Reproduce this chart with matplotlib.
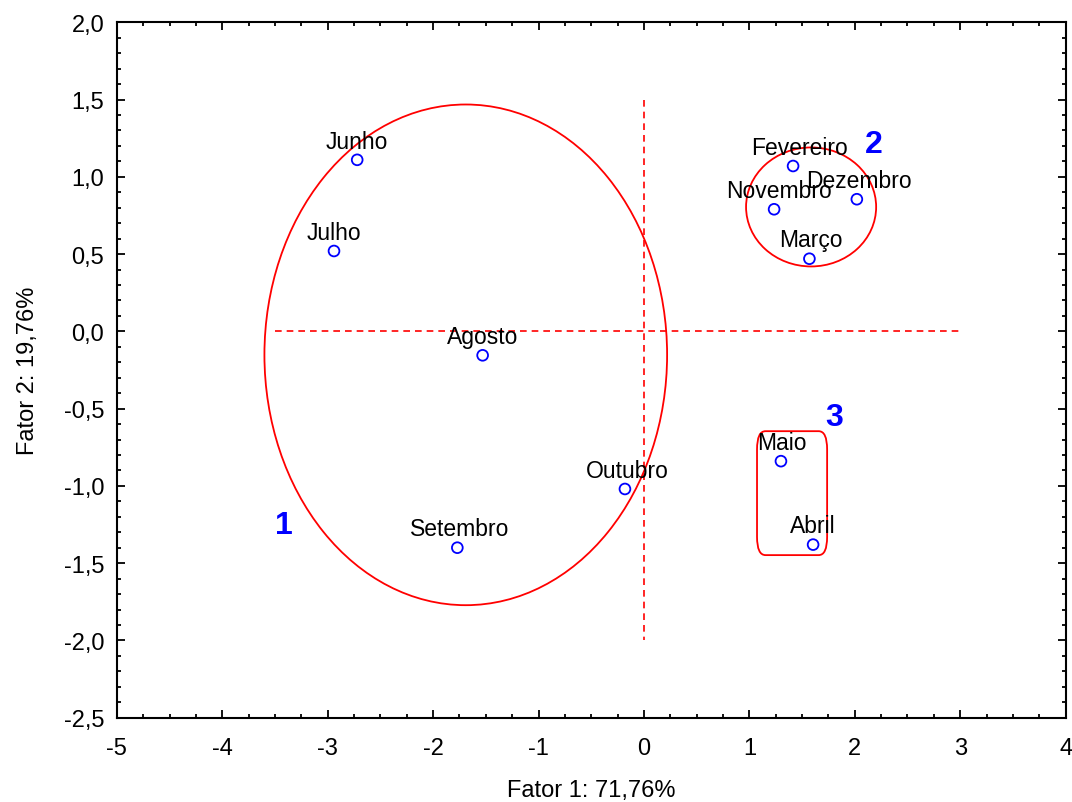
import numpy as np
import matplotlib.pyplot as plt
from matplotlib.patches import Ellipse, FancyBboxPatch
from matplotlib.ticker import MultipleLocator, FuncFormatter

plt.rcParams['font.family'] = ['Liberation Sans', 'DejaVu Sans']
plt.rcParams['axes.unicode_minus'] = False

meses = ['Junho', 'Julho', 'Agosto', 'Setembro', 'Outubro', 'Fevereiro',
         'Dezembro', 'Novembro', 'Março', 'Maio', 'Abril']
fator1 = [-2.72, -2.94, -1.53, -1.77, -0.18, 1.415, 2.02, 1.235, 1.57, 1.30, 1.605]
fator2 = [1.11, 0.52, -0.155, -1.40, -1.02, 1.07, 0.855, 0.79, 0.47, -0.84, -1.38]
label_dx = [0, 0, 0, 2, 2, 6, 2, 5, 1, 1, 0]

grupos = ['1', '2', '3']
grupo_x = [-3.42, 2.18, 1.80]
grupo_y = [-1.25, 1.21, -0.556]

fig = plt.figure(figsize=(10.72, 8.03), dpi=100)
ax = fig.add_axes([0.109, 0.105, 0.885, 0.866])

ax.plot([-3.5, 3.0], [0, 0], color='red', ls=(0, (4, 3)), lw=1.2)
ax.plot([0, 0], [1.5, -2.0], color='red', ls=(0, (4, 3)), lw=1.2)

ax.add_patch(Ellipse((-1.69, -0.152), 3.82, 3.24, fill=False, ec='red', lw=1.3))
ax.add_patch(Ellipse((1.586, 0.805), 1.234, 0.77, fill=False, ec='red', lw=1.3))
ax.add_patch(FancyBboxPatch((1.073, -1.448), 0.665, 0.802,
                            boxstyle='round,pad=0,rounding_size=0.08',
                            mutation_aspect=1.47, fill=False, ec='red', lw=1.3))

ax.scatter(fator1, fator2, s=60, facecolors='none', edgecolors='blue', linewidths=1.3, zorder=3)
for nome, x, y, dx in zip(meses, fator1, fator2, label_dx):
    ax.annotate(nome, (x, y), xytext=(dx * 0.72, 13.5), textcoords='offset points',
                ha='center', va='center', fontsize=16.5)

for g, x, y in zip(grupos, grupo_x, grupo_y):
    ax.text(x, y, g, color='blue', fontsize=23, fontweight='bold', ha='center', va='center')

ax.set_xlim(-5, 4)
ax.set_ylim(-2.5, 2.0)
ax.xaxis.set_major_locator(MultipleLocator(1))
ax.xaxis.set_minor_locator(MultipleLocator(0.25))
ax.yaxis.set_major_locator(MultipleLocator(0.5))
ax.yaxis.set_minor_locator(MultipleLocator(0.1))
ax.yaxis.set_major_formatter(FuncFormatter(lambda v, p: f'{v:.1f}'.replace('.', ',')))
ax.tick_params(which='both', direction='in', top=True, right=True, labelsize=17, width=1.3)
ax.tick_params(which='major', length=6)
ax.tick_params(axis='x', which='major', pad=14)
ax.tick_params(axis='y', which='major', pad=9)
ax.tick_params(which='minor', length=3)
for s in ax.spines.values():
    s.set_linewidth(1.5)

ax.set_xlabel('Fator 1: 71,76%', fontsize=17, labelpad=14)
ax.set_ylabel('Fator 2: 19,76%', fontsize=17, labelpad=18)

fig.savefig('out.png', dpi=100)
